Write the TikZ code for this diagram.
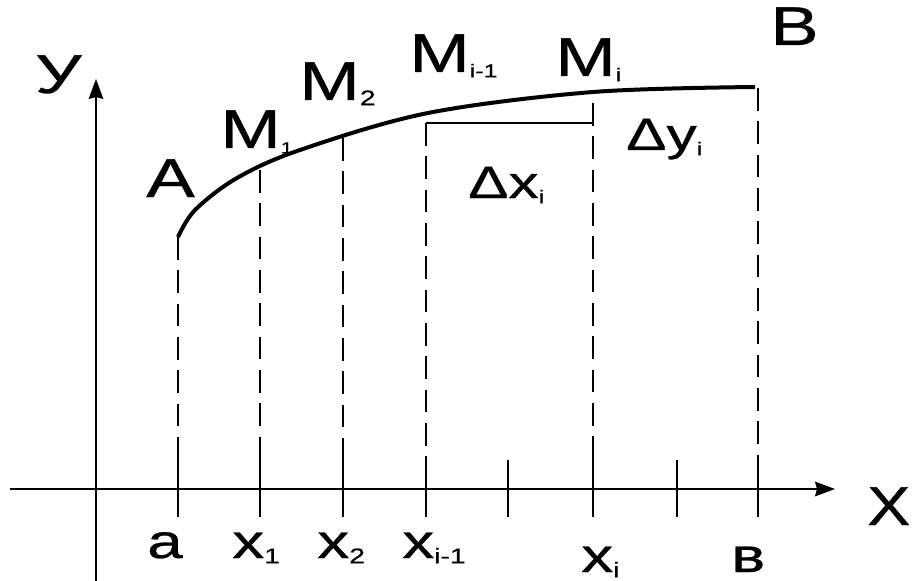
\documentclass[tikz,border=0pt]{standalone}
\usepackage{fontspec}
\setmainfont{Liberation Sans}[FakeBold=0.6]
\usetikzlibrary{arrows.meta}
\newcommand{\ix}[2][16]{\raisebox{-4pt}{\fontsize{#1}{#1}\selectfont #2}}
\newcommand{\wide}[1]{\scalebox{1.33}[1]{#1}}
\tikzset{
  lbl/.style={inner sep=0pt, anchor=base west, font=\fontsize{41}{41}\selectfont},
  lblsm/.style={inner sep=0pt, anchor=base west, font=\fontsize{36}{36}\selectfont},
  lbld/.style={inner sep=0pt, anchor=base west, font=\fontsize{34}{34}\selectfont},
  axis/.style={line width=1.1pt, -{Stealth[length=15pt,width=11pt,inset=1.5pt]}},
  guide/.style={line width=1.9pt, dash pattern=on 17pt off 8pt},
  tick/.style={line width=0.9pt}
}
\begin{document}
\begin{tikzpicture}[x=0.75pt, y=-0.75pt]
      \useasboundingbox[fill=white] (0,0) rectangle (913,581);
      % axes
      \coordinate (O1) at (10,489); \coordinate (O2) at (835,489);
      \coordinate (Y1) at (96,581); \coordinate (Y2) at (96,79);
      \draw[axis] (O1) -- (O2);
      \draw[axis] (Y1) -- (Y2);
      % curve A -> B
      \coordinate (A) at (178,237); \coordinate (B) at (755,87);
      \draw[line width=3pt] plot[smooth, tension=0.55] coordinates {(A) (195,210) (237,178) (300,150) (428,113) (593,92) (B)};
      % guides and ticks
      \foreach \xx/\yy in {178/237, 260/170, 343/138, 426/123, 593/103, 758/88} {
        \draw[guide] (\xx,\yy) -- (\xx,457);
        \draw[tick] (\xx,457) -- (\xx,517);
      }
      \foreach \xx in {508, 677} \draw[tick] (\xx,460) -- (\xx,517);
      \draw[tick] (426,123) -- (593,123) -- (593,103);
      % labels on the curve
      \node[lbl] (lY) at (35,93) {\wide{У}};
      \node[lbl] (lA) at (146,197) {\wide{A}};
      \node[lbl] (lM1) at (220,148) {\wide{M\ix[12]{1}}};
      \node[lbl] (lM2) at (299,100) {\wide{M\ix{2}}};
      \node[lbl] (lMi1) at (409,72) {\wide{M\ix[14]{i-1}}};
      \node[lbl] (lMi) at (555,76) {\wide{M\ix[14]{i}}};
      \node[lbl] (lB) at (770,45) {\wide{B}};
      \node[lbld] (ldx) at (468,198) {\wide{Δx\ix[14]{i}}};
      \node[lbld] (ldy) at (626,150) {\wide{Δy\ix[14]{i}}};
      % labels on the x axis
      \node[lblsm] (la) at (147,558) {\wide{a}};
      \node[lblsm] (lx1) at (232,558) {\wide{x\ix{1}}};
      \node[lblsm] (lx2) at (317,558) {\wide{x\ix{2}}};
      \node[lblsm] (lxi1) at (402,558) {\wide{x\ix{i-1}}};
      \node[lblsm] (lxi) at (581,572) {\wide{x\ix{i}}};
      \node[lblsm] (lb) at (731,572) {\wide{в}};
      \node[lbl] (lX) at (867,525) {\scalebox{1.18}[1]{X}};
\end{tikzpicture}
\end{document}
